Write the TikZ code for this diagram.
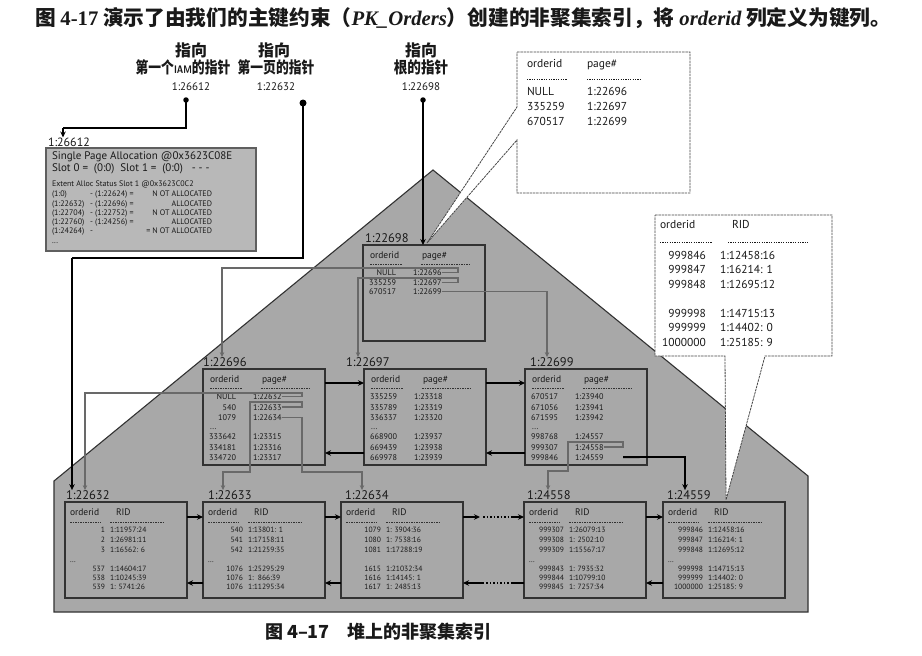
\documentclass[tikz,border=0pt]{standalone}
\usepackage{fontspec}
\setmainfont{PT Sans}
\newfontfamily\cjk{Noto Sans CJK SC}
\newfontfamily\serf{Liberation Serif}
\usetikzlibrary{arrows.meta,calc}
\definecolor{housefill}{RGB}{168,168,168}
\definecolor{pgborder}{RGB}{50,50,50}
\definecolor{iamfill}{RGB}{184,184,184}
\definecolor{iamborder}{RGB}{95,95,95}
\definecolor{conn}{RGB}{105,105,105}
\definecolor{callborder}{RGB}{70,70,70}
\definecolor{txtcol}{RGB}{25,25,25}

\newcommand{\lvbox}[7]{%
  \node[pagebox] (#1) at (#2,#3) {};
  \node[hdr, anchor=mid west] (#1-h1) at ($(#1.north west)+(7,11)$) {orderid};
  \node[hdr, anchor=mid west] (#1-h2) at ($(#1.north west)+(59,11)$) {#4};
  \draw[hdash] ($(#1.north west)+(7,19)$) -- ++(32,0);
  \draw[hdash] ($(#1.north west)+(58,19)$) -- ++(50,0);
  \foreach \yy/\nn/\vv [count=\k] in {#5} {
    \node[rowA, anchor=mid east] (#1-n\k) at ($(#1.north west)+(33,\yy)$) {\nn};
    \node[rowA, anchor=mid west] (#1-v\k) at ($(#1.north west)+(50,\yy)$) {\vv};
  }
  \node[rowA, anchor=mid west] (#1-dots) at ($(#1.north west)+(7,#6)$) {#7};
}
\newcommand{\lfbox}[7]{%
  \node[pagebox] (#1) at (#2,#3) {};
  \node[hdr, anchor=mid west] (#1-h1) at ($(#1.north west)+(5,11)$) {orderid};
  \node[hdr, anchor=mid west] (#1-h2) at ($(#1.north west)+(51,11)$) {#4};
  \draw[hdash] ($(#1.north west)+(5,20)$) -- ++(31,0);
  \draw[hdash] ($(#1.north west)+(45,20)$) -- ++(55,0);
  \foreach \yy/\nn/\vv [count=\k] in {#5} {
    \node[rowB, anchor=mid east] (#1-n\k) at ($(#1.north west)+(40,\yy)$) {\nn};
    \node[rowB, anchor=mid west] (#1-v\k) at ($(#1.north west)+(45,\yy)$) {\vv};
  }
  \node[rowB, anchor=mid west] (#1-dots) at ($(#1.north west)+(5,#6)$) {#7};
}

\begin{document}
\begin{tikzpicture}[x=1pt,y=-1pt,
  every node/.style={inner sep=0pt, outer sep=0pt, text=txtcol},
  pagebox/.style={draw=pgborder, fill=housefill, line width=1.1pt, minimum width=122pt, minimum height=96pt, anchor=north west},
  plbl/.style={font=\fontsize{12.5}{13}\selectfont, anchor=base west},
  hdr/.style={font=\fontsize{9.5}{10}\selectfont},
  rowA/.style={font=\fontsize{8.2}{9}\selectfont},
  rowB/.style={font=\fontsize{7.6}{8}\selectfont},
  hdash/.style={draw=pgborder, line width=0.6pt, dash pattern=on 1.5pt off 1pt},
  cdash/.style={draw=txtcol, line width=0.6pt, dash pattern=on 1.2pt off 1.2pt},
  ctxt/.style={font=\fontsize{11.5}{12}\selectfont},
  callout/.style={fill=white, draw=callborder, line width=0.8pt, dash pattern=on 2.5pt off 0.8pt},
  bconn/.style={draw=black, line width=1.8pt, -{Stealth[length=6pt,width=5.5pt]}},
  bline/.style={draw=black, line width=1.8pt},
  bdots/.style={draw=black, line width=1.8pt, dash pattern=on 1.5pt off 2pt},
  gconn/.style={draw=conn, line width=1.3pt, -{Stealth[length=5pt,width=4.5pt]}},
  ptr/.style={draw=black, line width=1.6pt},
  cjkA/.style={font=\cjk\bfseries\fontsize{16}{17}\selectfont},
  numA/.style={font=\fontsize{11}{12}\selectfont},
  dotn/.style={circle, fill=black, draw=none},
  iambox/.style={draw=iamborder, fill=iamfill, line width=1.1pt, anchor=north west, minimum width=210pt, minimum height=103pt},
  iamA/.style={font=\fontsize{11}{12}\selectfont},
  iamB/.style={font=\fontsize{8}{9}\selectfont}
]
\useasboundingbox (0,0) rectangle (922,656);
\fill[white] (0,0) rectangle (922,656);

% title
\node[anchor=west, font=\cjk\bfseries\fontsize{20.7}{22}\selectfont] (title) at (35,18)
  {图 {\serf\bfseries 4-17} 演示了由我们的主键约束（{\serf\bfseries\itshape PK\_Orders}）创建的非聚集索引，将 {\serf\bfseries\itshape orderid} 列定义为键列。};

% house
\filldraw[fill=housefill, draw=pgborder, line width=1.1pt] (433,170) -- (808,476) -- (808,612) -- (54,612) -- (54,481) -- cycle;

% callouts
\path[callout] (517,52) -- (690,52) -- (690,193) -- (517,193) -- (517,140) -- (427,243) -- (517,107) -- cycle;
\path[callout] (655,215) -- (832,215) -- (832,356) -- (765,356) -- (726,500) -- (725,356) -- (655,356) -- cycle;

% top callout text
\node[ctxt, anchor=mid west] (ca-h1) at (527,65) {orderid};
\node[ctxt, anchor=mid west] (ca-h2) at (587,65) {page\#};
\draw[cdash] (527,79) -- (567,79);
\draw[cdash] (587,79) -- (640,79);
\foreach \yy/\nn/\vv [count=\k] in {93/NULL/1:22696, 108/335259/1:22697, 123/670517/1:22699} {
  \node[ctxt, anchor=mid west] (ca-n\k) at (527,\yy) {\nn};
  \node[ctxt, anchor=mid west] (ca-v\k) at (587,\yy) {\vv};
}
% right callout text
\node[ctxt, anchor=mid west] (cb-h1) at (660,226) {orderid};
\node[ctxt, anchor=mid west] (cb-h2) at (732,226) {RID};
\draw[cdash] (660,242) -- (712,242);
\draw[cdash] (728,242) -- (808,242);
\foreach \yy/\nn/\vv [count=\k] in {257/999846/1:12458:16, 271/999847/1:16214: 1, 286/999848/1:12695:12, 315/999998/1:14715:13, 329/999999/1:14402: 0, 344/1000000/1:25185: 9} {
  \node[ctxt, anchor=mid east] (cb-n\k) at (706,\yy) {\nn};
  \node[ctxt, anchor=mid west] (cb-v\k) at (720,\yy) {\vv};
}

% IAM box
\node[iambox] (iam) at (46,148) {};
\node[iamA, anchor=mid west] (iam1) at (52,157) {Single Page Allocation @0x3623C08E};
\node[iamA, anchor=mid west] (iam2) at (52,169) {Slot 0 = \ (0:0) \ Slot 1 = \ (0:0) \ \ - - -};
\node[iamB, anchor=mid west] (iam3) at (52,184) {Extent Alloc Status Slot 1 @0x3623C0C2};
\foreach \yy/\p/\q/\r [count=\k] in {194/(1:0)/- (1:22624) =/N OT ALLOCATED, 203.5/(1:22632)/- (1:22696) =/ALLOCATED, 213/(1:22704)/- (1:22752) =/N OT ALLOCATED, 222/(1:22760)/- (1:24256) =/ALLOCATED, 231/(1:24264)/-/= N OT ALLOCATED} {
  \node[iamB, anchor=mid west] (iam-a\k) at (52,\yy) {\p};
  \node[iamB, anchor=mid west] (iam-b\k) at (90,\yy) {\q};
  \node[iamB, anchor=mid east] (iam-c\k) at (212,\yy) {\r};
}
\node[iamB, anchor=mid west] (iam-dots) at (52,241) {...};
\node[numA, font=\fontsize{12}{13}\selectfont, anchor=base west] (iamlbl) at (48,146) {1:26612};

% top pointer labels
\node[cjkA] (l1a) at (191,50) {指向};
\node[cjkA] (l1b) at (183,67) {\scalebox{0.8}[1]{第一个{\sffamily\fontsize{11}{12}\selectfont IAM}的指针}};
\node[numA] (l1n) at (191,87) {1:26612};
\node[cjkA] (l2a) at (274,50) {指向};
\node[cjkA] (l2b) at (276,67) {\scalebox{0.8}[1]{第一页的指针}};
\node[numA] (l2n) at (276,87) {1:22632};
\node[cjkA] (l3a) at (421,50) {指向};
\node[cjkA] (l3b) at (421,67) {\scalebox{0.85}[1]{根的指针}};
\node[numA] (l3n) at (421,87) {1:22698};
\node[dotn, minimum size=5.5pt] (d1) at (186,100) {};
\node[dotn, minimum size=7pt] (d2) at (303,103) {};
\node[dotn, minimum size=5.5pt] (d3) at (423,100) {};

% pages
\lvbox{root}{363}{245}{page\#}{28/NULL/1:22696, 38/335259/1:22697, 47/670517/1:22699}{58}{}
\lvbox{p22696}{203}{369}{page\#}{28/NULL/1:22632, 38.5/540/1:22633, 49/1079/1:22634, 68/333642/1:23315, 78.5/334181/1:23316, 88.5/334720/1:23317}{58}{...}
\lvbox{p22697}{364}{369}{page\#}{28/335259/1:23318, 38.5/335789/1:23319, 49/336337/1:23320, 68/668900/1:23937, 78.5/669439/1:23938, 88.5/669978/1:23939}{58}{...}
\lvbox{p22699}{525}{369}{page\#}{28/670517/1:23940, 38.5/671056/1:23941, 49/671595/1:23942, 68/998768/1:24557, 78.5/999307/1:24558, 88.5/999846/1:24559}{58}{...}

\lfbox{p22632}{65}{502}{RID}{28/1/1:11957:24, 38/2/1:26981:11, 48/3/1:16562: 6, 67/537/1:14604:17, 76/538/1:10245:39, 85/539/1: 5741:26}{58}{...}
\lfbox{p22633}{203}{502}{RID}{28/540/1:13801: 1, 38/541/1:17158:11, 48/542/1:21259:35, 67/1076/1:25295:29, 76/1076/1:\ \ 866:39, 85/1076/1:11295:34}{58}{...}
\lfbox{p22634}{341}{502}{RID}{28/1079/1: 3904:36, 38/1080/1: 7538:16, 48/1081/1:17288:19, 67/1615/1:21032:34, 76/1616/1:14145: 1, 85/1617/1: 2485:13}{58}{}
\lfbox{p24558}{524}{502}{RID}{28/999307/1:26079:13, 38/999308/1: 2502:10, 48/999309/1:15567:17, 67/999843/1: 7935:32, 76/999844/1:10799:10, 85/999845/1: 7257:34}{58}{...}
\lfbox{p24559}{663}{502}{RID}{28/999846/1:12458:16, 38/999847/1:16214: 1, 48/999848/1:12695:12, 67/999998/1:14715:13, 76/999999/1:14402: 0, 85/1000000/1:25185: 9}{58}{...}

% page labels
\node[plbl] (t22698) at (365,242) {1:22698};
\node[plbl] (t22696) at (203,366) {1:22696};
\node[plbl] (t22697) at (346,366) {1:22697};
\node[plbl] (t22699) at (530,366) {1:22699};
\node[plbl] (t22632) at (66,499) {1:22632};
\node[plbl] (t22633) at (208,499) {1:22633};
\node[plbl] (t22634) at (345,499) {1:22634};
\node[plbl] (t24558) at (527,499) {1:24558};
\node[plbl] (t24559) at (667,499) {1:24559};

% top pointers
\coordinate (k1) at (63,128);
\draw[ptr] (d1.center) |- (k1);
\draw[bconn] (k1) -- (k1 |- iamlbl.north);
\coordinate (k2) at (72,258);
\draw[ptr] (d2.center) |- (k2);
\draw[bconn] (k2) -- (k2 |- t22632.north);
\draw[bconn] (d3.center) -- (d3 |- root.north);

% root -> level 1
\coordinate (a1) at (458,268); \coordinate (a2) at (222,268);
\draw[gconn] (root-v1.east) -| (a1) -- (a2) -- (a2 |- t22696.north);
\coordinate (b1) at (458,278); \coordinate (b2) at (358,278);
\draw[gconn] (root-v2.east) -| (b1) -- (b2) -- (b2 |- t22697.north);
\coordinate (c1) at (547,292);
\draw[gconn] (root-v3.east) -| (c1 |- t22699.north);

% level 1 -> leaves
\coordinate (e1) at (302,393); \coordinate (e2) at (85,393);
\draw[gconn] (p22696-v1.east) -| (e1) -- (e2) -- (e2 |- t22632.north);
\coordinate (f1) at (302,402); \coordinate (f2) at (250,402); \coordinate (f3) at (250,472); \coordinate (f4) at (223,472);
\draw[gconn] (p22696-v2.east) -| (f1) -- (f2) -- (f3) -- (f4) -- (f4 |- t22633.north);
\coordinate (g1) at (302,472); \coordinate (g2) at (362,472);
\draw[gconn] (p22696-v3.east) -| (g1) -- (g2) -- (g2 |- t22634.north);
\coordinate (h1) at (623,442); \coordinate (h2) at (568,442); \coordinate (h3) at (568,471); \coordinate (h4) at (548,471);
\draw[gconn] (p22699-v5.east) -| (h1) -- (h2) -- (h3) -- (h4) -- (h4 |- t24558.north);
\coordinate (m1) at (685,457);
\draw[bconn] (h1 |- p22699-v6) -- (m1) -- (m1 |- t24559.north);

% sibling links level 1
\foreach \a/\b in {p22696/p22697, p22697/p22699} {
  \draw[bconn] ($(\a.north east)+(0,14)$) -- ($(\b.north west)+(0,14)$);
  \draw[bconn] ($(\b.north west)+(0,84)$) -- ($(\a.north east)+(0,84)$);
}
% sibling links leaves
\foreach \a/\b in {p22632/p22633, p22633/p22634, p24558/p24559} {
  \draw[bconn] ($(\a.north east)+(0,15)$) -- ($(\b.north west)+(0,15)$);
  \draw[bconn] ($(\b.north west)+(0,81)$) -- ($(\a.north east)+(0,81)$);
}
\draw[bconn] ($(p22634.north east)+(0,15)$) -- ($(p22634.north east)+(17,15)$);
\draw[bdots] ($(p22634.north east)+(20,15)$) -- ($(p24558.north west)+(-12,15)$);
\draw[bconn] ($(p24558.north west)+(-12,15)$) -- ($(p24558.north west)+(0,15)$);
\draw[bline] ($(p24558.north west)+(0,81)$) -- ($(p24558.north west)+(-12,81)$);
\draw[bdots] ($(p24558.north west)+(-12,81)$) -- ($(p22634.north east)+(20,81)$);
\draw[bconn] ($(p22634.north east)+(20,81)$) -- ($(p22634.north east)+(0,81)$);

% caption
\node[font=\cjk\bfseries\fontsize{18}{19}\selectfont, anchor=west] (caption) at (265,632) {图 4–17\quad 堆上的非聚集索引};
\end{tikzpicture}
\end{document}
